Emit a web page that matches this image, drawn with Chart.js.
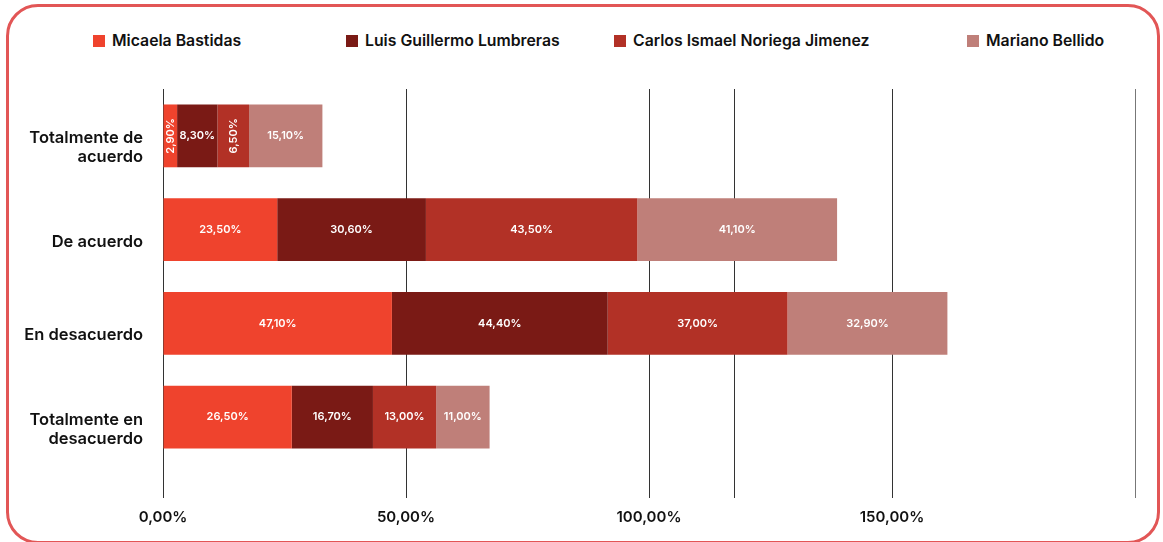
<!DOCTYPE html>
<html>
<head>
<meta charset="utf-8">
<script src="https://cdn.jsdelivr.net/npm/chart.js@4.4.0/dist/chart.umd.min.js"></script>
<style>
    html, body { margin: 0; padding: 0; background: #fff; overflow: hidden; }
    #wrap { position: relative; width: 1163px; height: 542px; overflow: hidden; }
    #frame {
        position: absolute; left: 6px; top: 4px; width: 1154px; height: 540px;
        border: 3px solid #e25656; border-radius: 32px; box-sizing: border-box;
    }
    #legend { position: absolute; top: 0; left: 0; width: 100%; height: 80px; }
    .leg-item {
        position: absolute; top: 31px; display: flex; align-items: center;
        font-family: Inter, "Noto Sans", sans-serif; font-weight: 600; font-size: 15.8px; color: #111;
    }
    .leg-box { width: 12px; height: 12px; margin-right: 7px; }
    canvas { position: absolute; left: 0; top: 0; }
</style>
</head>
<body>
<div id="wrap">
    <div id="frame"></div>
    <div id="legend"></div>
    <canvas id="chart" width="1163" height="542"></canvas>
</div>
<script>
// --- DATA ---
const categories = [['Totalmente de', 'acuerdo'], 'De acuerdo', 'En desacuerdo', ['Totalmente en', 'desacuerdo']];
const seriesNames = ['Micaela Bastidas', 'Luis Guillermo Lumbreras', 'Carlos Ismael Noriega Jimenez', 'Mariano Bellido'];
const micaela = [2.9, 23.5, 47.1, 26.5];
const luis = [8.3, 30.6, 44.4, 16.7];
const carlos = [6.5, 43.5, 37.0, 13.0];
const mariano = [15.1, 41.1, 32.9, 11.0];
const tickValues = [0, 50, 100, 117.5, 150, 200];
const tickLabels = [0, 50, 100, 150];

// --- STYLE ---
const colors = ['#ef432d', '#7a1a15', '#b23126', '#bf7f79'];
const legendLeft = [93, 346, 614, 967];
const FONT = 'Inter, "Noto Sans", sans-serif';

const fmt = v => v.toFixed(2).replace('.', ',') + '%';

// HTML legend, spaced like the original
const legendEl = document.getElementById('legend');
seriesNames.forEach((name, i) => {
    const item = document.createElement('div');
    item.className = 'leg-item';
    item.style.left = legendLeft[i] + 'px';
    item.innerHTML = `<span class="leg-box" style="background:${colors[i]}"></span>${name}`;
    legendEl.appendChild(item);
});

// values written inside the bars
const barLabels = {
    id: 'barLabels',
    afterDatasetsDraw(chart) {
        const ctx = chart.ctx;
        ctx.save();
        ctx.fillStyle = '#fff';
        ctx.font = `600 11px ${FONT}`;
        ctx.textAlign = 'center';
        ctx.textBaseline = 'middle';
        chart.data.datasets.forEach((ds, di) => {
            chart.getDatasetMeta(di).data.forEach((bar, i) => {
                const w = Math.abs(bar.x - bar.base);
                const cx = (bar.x + bar.base) / 2;
                const text = fmt(ds.data[i]);
                if (w < 35) {
                    ctx.save();
                    ctx.translate(cx, bar.y);
                    ctx.rotate(-Math.PI / 2);
                    ctx.fillText(text, 0, 0);
                    ctx.restore();
                } else {
                    ctx.fillText(text, cx, bar.y);
                }
            });
        });
        ctx.restore();
    }
};

const datasets = [micaela, luis, carlos, mariano].map((data, i) => ({
    label: seriesNames[i],
    data,
    backgroundColor: colors[i],
    borderWidth: 0,
    categoryPercentage: 1,
    barPercentage: 0.67
}));

new Chart(document.getElementById('chart'), {
    type: 'bar',
    data: { labels: categories, datasets },
    options: {
        indexAxis: 'y',
        responsive: false,
        animation: false,
        layout: { padding: { top: 89, right: 28, bottom: 6, left: 0 } },
        plugins: { legend: { display: false }, tooltip: { enabled: false } },
        scales: {
            x: {
                stacked: true,
                min: 0,
                max: 200,
                afterBuildTicks: scale => { scale.ticks = tickValues.map(v => ({ value: v })); },
                ticks: {
                    autoSkip: false,
                    maxRotation: 0,
                    padding: 10,
                    color: '#111',
                    font: { family: FONT, size: 15, weight: '600' },
                    callback: v => tickLabels.includes(v) ? fmt(v) : ''
                },
                grid: {
                    color: ctx => ctx.tick && ctx.tick.value === 200 ? '#777' : '#333',
                    lineWidth: 1,
                    tickLength: 34
                },
                border: { display: false }
            },
            y: {
                stacked: true,
                afterFit: scale => { scale.width = 163; },
                ticks: {
                    padding: 20,
                    labelOffset: 12,
                    color: '#111',
                    font: { family: FONT, size: 16.5, weight: '600', lineHeight: 1.15 }
                },
                grid: { display: false, drawTicks: false },
                border: { display: false }
            }
        }
    },
    plugins: [barLabels]
});
</script>
</body>
</html>
